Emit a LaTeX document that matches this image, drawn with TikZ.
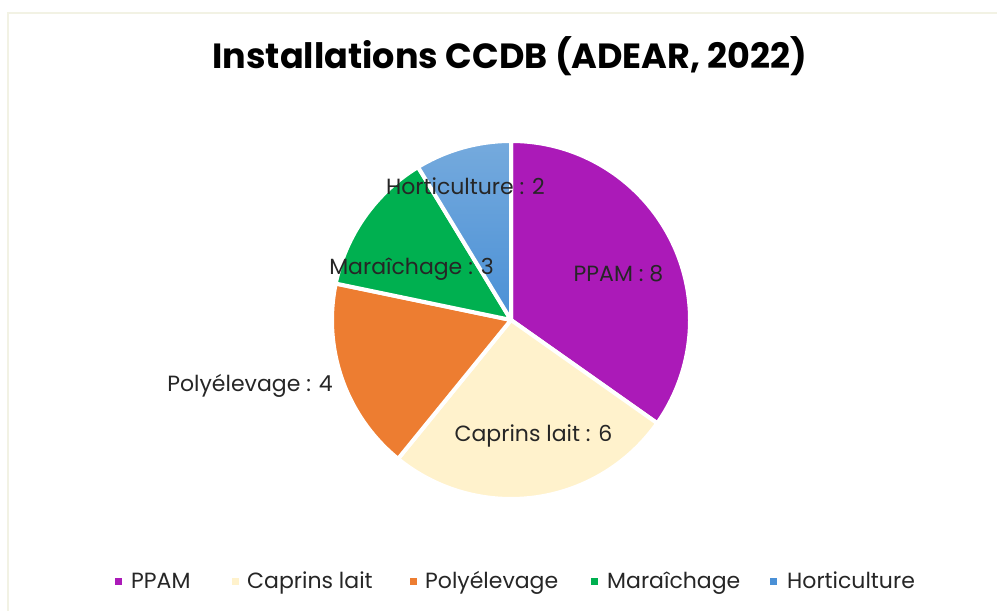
\documentclass[tikz,border=0pt]{standalone}
\usepackage{fontspec}
\setmainfont{Poppins}
\usetikzlibrary{positioning}
\definecolor{ppamcol}{RGB}{171,26,184}
\definecolor{caprcol}{RGB}{255,242,204}
\definecolor{polycol}{RGB}{237,125,49}
\definecolor{maracol}{RGB}{0,176,80}
\definecolor{hortitop}{RGB}{117,170,221}
\definecolor{hortibot}{RGB}{74,144,214}
\definecolor{txtcol}{RGB}{38,38,38}
\definecolor{framecol}{RGB}{242,242,228}
\tikzset{
  slice/.style={draw=white, line width=4pt, line join=round},
  pielabel/.style={font=\fontsize{22}{26}\selectfont, text=txtcol, anchor=base, inner sep=0pt},
  legtext/.style={font=\fontsize{22}{26}\selectfont, text=txtcol, anchor=base west, inner sep=0pt},
  legmark/.style={minimum size=7pt, inner sep=0pt, draw=none}
}
\begin{document}
\begin{tikzpicture}[x=1pt, y=1pt]
    \useasboundingbox (0,0) rectangle (997,611);
    \fill[white] (0,0) rectangle (997,611);
    \draw[framecol, line width=1.2pt] (8,-10) -- (8,598) -- (1010,598);
    % title
    \node[font=\bfseries\fontsize{35}{41}\selectfont, anchor=base, inner sep=0pt] (title) at (510,542) {Installations CCDB (ADEAR, 2022)};
    % pie
    \coordinate (c) at (511,291);
    \path[slice, fill=ppamcol] (c) -- ++(90:179) arc[start angle=90, end angle=-35.22, radius=179] -- cycle;
    \path[slice, fill=caprcol] (c) -- ++(-35.22:179) arc[start angle=-35.22, end angle=-129.13, radius=179] -- cycle;
    \path[slice, fill=polycol] (c) -- ++(-129.13:179) arc[start angle=-129.13, end angle=-191.74, radius=179] -- cycle;
    \path[slice, fill=maracol] (c) -- ++(-191.74:179) arc[start angle=-191.74, end angle=-238.70, radius=179] -- cycle;
    \path[slice, top color=hortitop, bottom color=hortibot] (c) -- ++(-238.70:179) arc[start angle=-238.70, end angle=-270, radius=179] -- cycle;
    % data labels
    \node[pielabel] (lppam) at (618.5,329) {PPAM : 8};
    \node[pielabel] (lcapr) at (533.5,169.3) {Caprins lait : 6};
    \node[pielabel] (lpoly) at (250,219.3) {Polyélevage : 4};
    \node[pielabel] (lmara) at (411.5,336) {Maraîchage : 3};
    \node[pielabel] (lhorti) at (465.5,416) {Horticulture : 2};
    % legend
    \node[legmark, fill=ppamcol] (m1) at (118.5,29.5) {};
    \node[legtext] (t1) at (131,22) {PPAM};
    \node[legmark, fill=caprcol] (m2) at (235,29.5) {};
    \node[legtext] (t2) at (247,22) {Caprins lait};
    \node[legmark, fill=polycol] (m3) at (413,29.5) {};
    \node[legtext] (t3) at (425,22) {Polyélevage};
    \node[legmark, fill=maracol] (m4) at (594,29.5) {};
    \node[legtext] (t4) at (607,22) {Maraîchage};
    \node[legmark, fill=hortibot] (m5) at (773.5,29.5) {};
    \node[legtext] (t5) at (787,22) {Horticulture};
\end{tikzpicture}
\end{document}
